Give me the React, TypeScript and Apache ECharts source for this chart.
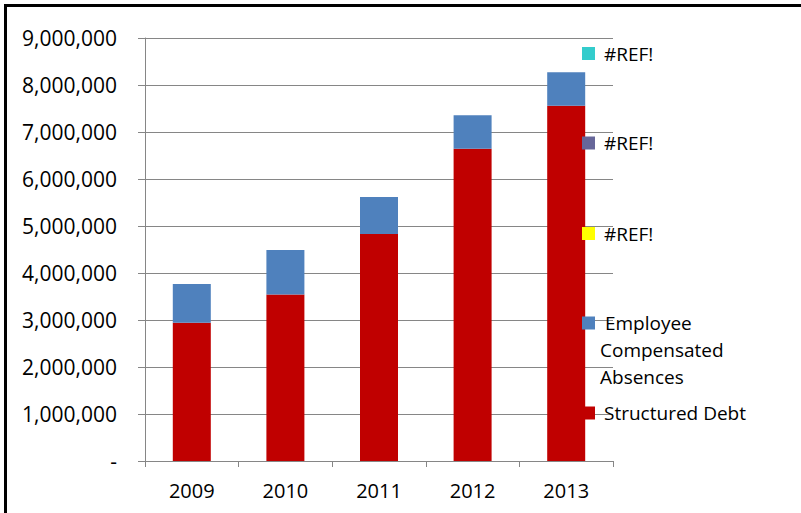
import React, { useEffect, useRef } from "react";
import * as echarts from "echarts";

const years = ["2009", "2010", "2011", "2012", "2013"];
const structuredDebt = [2940000, 3540000, 4830000, 6645000, 7560000];
const employeeCompensatedAbsences = [825000, 950000, 787000, 710000, 710000];
const refValues = [0, 0, 0, 0, 0];
const yTicks = [0, 1000000, 2000000, 3000000, 4000000, 5000000, 6000000, 7000000, 8000000, 9000000];

const FONT = "'Open Sans', 'Noto Sans', sans-serif";
const GRID = "#868686";

export default function App() {
  const ref = useRef<HTMLDivElement>(null);
  useEffect(() => {
    if (!ref.current) return;
    const chart = echarts.init(ref.current, undefined, { renderer: "svg" });
    const legendBase = {
      orient: "vertical",
      left: 582,
      padding: 0,
      itemWidth: 13,
      itemHeight: 13,
      icon: "rect",
      selectedMode: false,
      textStyle: { fontFamily: FONT, fontSize: 19, color: "#000", lineHeight: 27, padding: [0, 0, 0, 4] },
    };
    const legendItems = [
      { name: "#REF!", color: "#33CCCC", center: 53.5 },
      { name: "#REF!", color: "#666699", center: 143 },
      { name: "#REF!", color: "#FFFF00", center: 233.5 },
      { name: "Structured Debt", color: "#C00000", center: 413 },
    ];
    const legends: any[] = legendItems.map((it) => ({
      ...legendBase,
      top: it.center - 13.5,
      data: [{ name: it.name, itemStyle: { color: it.color } }],
    }));
    legends.push({
      ...legendBase,
      top: 323 - 6.5 - 27 * 2.5 + 6.5,
      data: [{ name: "Employee Compensated Absences", itemStyle: { color: "#4F81BD" } }],
      formatter: () => " \n \n Employee\nCompensated\nAbsences",
      textStyle: { ...legendBase.textStyle, padding: 0 },
    });

    chart.setOption({
      animation: false,
      backgroundColor: "#fff",
      grid: { left: 145, right: 188, top: 38, bottom: 52, containLabel: false },
      legend: legends,
      xAxis: {
        type: "category",
        data: years,
        boundaryGap: true,
        axisLine: { show: true, lineStyle: { color: GRID, width: 1 } },
        axisTick: { show: true, length: 6, inside: false, alignWithLabel: false, lineStyle: { color: GRID } },
        axisLabel: { fontFamily: FONT, fontSize: 20, color: "#000", margin: 19 },
        splitLine: { show: false },
      },
      yAxis: {
        type: "value",
        min: yTicks[0],
        max: yTicks[yTicks.length - 1],
        interval: yTicks[1] - yTicks[0],
        axisLine: { show: true, lineStyle: { color: GRID, width: 1 } },
        axisTick: { show: true, length: 7, inside: false, lineStyle: { color: GRID } },
        axisLabel: {
          fontFamily: FONT,
          fontSize: 21,
          color: "#000",
          margin: 28,
          formatter: (v: number) => (v === 0 ? "-" : v.toLocaleString("en-US")),
        },
        splitLine: { show: true, lineStyle: { color: GRID, width: 1 } },
      },
      series: [
        {
          name: "Structured Debt",
          type: "bar",
          stack: "total",
          barWidth: 38,
          data: structuredDebt,
          itemStyle: { color: "#C00000" },
        },
        {
          name: "Employee Compensated Absences",
          type: "bar",
          stack: "total",
          barWidth: 38,
          data: employeeCompensatedAbsences,
          itemStyle: { color: "#4F81BD" },
        },
        { name: "#REF!", type: "bar", stack: "total", barWidth: 38, data: refValues, itemStyle: { color: "#FFFF00" } },
        { name: "#REF!", type: "bar", stack: "total", barWidth: 38, data: refValues, itemStyle: { color: "#666699" } },
        { name: "#REF!", type: "bar", stack: "total", barWidth: 38, data: refValues, itemStyle: { color: "#33CCCC" } },
      ],
      graphic: [
        { type: "rect", shape: { x: 4, y: 4, width: 797, height: 3 }, style: { fill: "#000" }, z: 100 },
        { type: "rect", shape: { x: 4, y: 4, width: 3, height: 509 }, style: { fill: "#000" }, z: 100 },
      ],
    });
    return () => chart.dispose();
  }, []);
  return <div ref={ref} style={{ position: "fixed", left: 0, top: 0, width: 801, height: 513 }} />;
}
